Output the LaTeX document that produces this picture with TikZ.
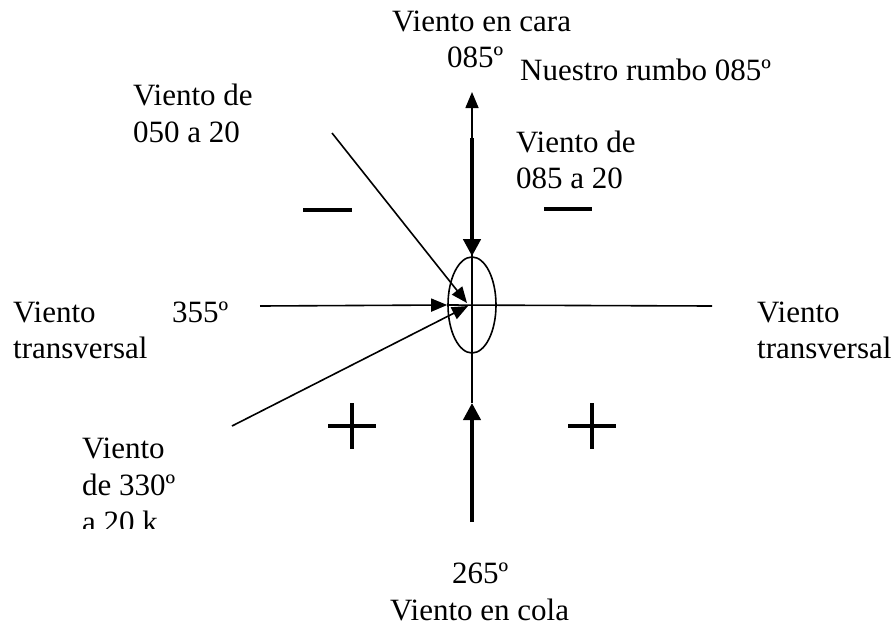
\documentclass[tikz,border=0pt]{standalone}
\usepackage{fontspec}
\setmainfont{Liberation Serif}
\usetikzlibrary{arrows.meta}
\usetikzlibrary{shapes.geometric}
\tikzset{lbl/.style={inner sep=0pt,anchor=base west,font=\fontsize{31}{37}\selectfont},
         wind/.style={line width=1.6pt,-{Triangle[length=16pt,width=13pt]}},
         strong/.style={line width=4pt,-{Triangle[length=17pt,width=17pt]}},
         axis/.style={line width=1.6pt},
         sign/.style={line width=3.5pt}}

\begin{document}
\begin{tikzpicture}[x=1pt,y=-1pt]
\useasboundingbox (0,0) rectangle (896,627);
\node[draw,ellipse,line width=1.6pt,minimum width=48pt,minimum height=96pt,inner sep=0pt] (ell) at (472,305) {};
\coordinate (top) at (472,92);
\coordinate (bot) at (472,403);
\coordinate (west) at (260,306);
\coordinate (east) at (712,306);
\coordinate (headtop) at (472,138);
\coordinate (tailbot) at (472,522);
\coordinate (from050) at (332,133);
\coordinate (to050) at (467,303);
\coordinate (from330) at (232,426);
\coordinate (to330) at (468,306);
\draw[wind](bot)--(top);
\draw[wind](west)--(ell.west);
\draw[axis](ell.west)--(east);
\draw[strong](headtop)--(ell.north);
\draw[strong](tailbot)--(bot);
\draw[wind](from050)--(to050);
\draw[wind](from330)--(to330);
\draw[sign](303,210)--(352,210);
\draw[sign](544,209)--(592,209);
\draw[sign](328,426)--(376,426);
\draw[sign](352,403)--(352,449);
\draw[sign](568,426)--(616,426);
\draw[sign](592,403)--(592,449);
\node[lbl] (cara) at (392,31) {Viento en cara};
\node[lbl] (caradeg) at (447,67) {085º};
\node[lbl] (rumbo) at (520,80) {Nuestro rumbo 085º};
\node[lbl] (de050) at (133,105) {Viento de};
\node[lbl] (de050b) at (133,142) {050 a 20};
\node[lbl] (de085) at (516,152) {Viento de};
\node[lbl] (de085b) at (516,188) {085 a 20};
\node[lbl] (transw) at (13,322) {Viento};
\node[lbl] (transwb) at (13,358) {transversal};
\node[lbl] (deg355) at (172,322) {355º};
\node[lbl] (transe) at (757,322) {Viento};
\node[lbl] (transeb) at (757,358) {transversal};
\node[lbl] (de330) at (82,458) {Viento};
\node[lbl] (de330b) at (82,495) {de 330º};
\begin{scope}
\clip (60,500) rectangle (300,528);
\node[lbl] (de330c) at (82,532) {a 20 k};
\end{scope}
\node[lbl] (coladeg) at (452,583) {265º};
\node[lbl] (cola) at (390,620) {Viento en cola};
\end{tikzpicture}
\end{document}
